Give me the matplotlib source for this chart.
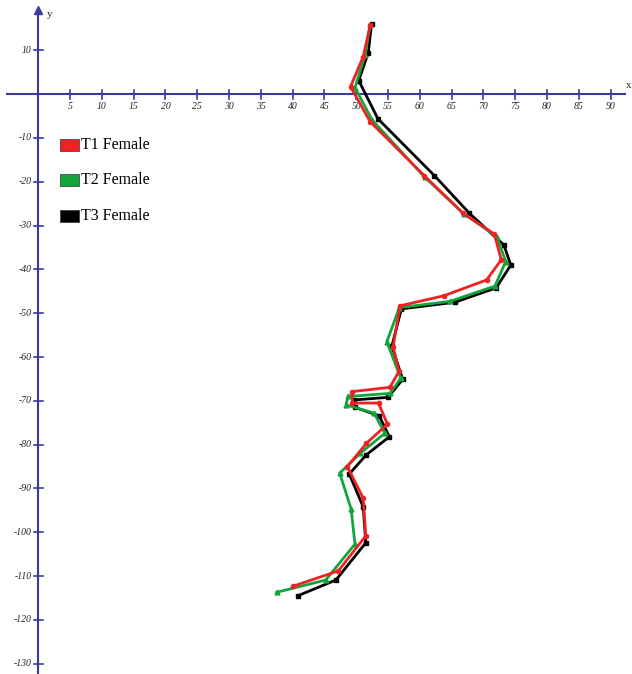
import numpy as np
import matplotlib.pyplot as plt

# T1 Female (red, circles)
t1_x = [52.2, 51.1, 49.1, 52.2, 60.7, 66.8, 71.7, 72.8, 70.5, 63.8, 56.9, 55.8,
        56.7, 55.3, 49.3, 49.4, 53.5, 54.9, 51.6, 48.6, 51.1, 51.5, 47.2, 40.1]
t1_y = [15.8, 8.6, 1.7, -6.3, -18.6, -27.2, -31.9, -37.8, -42.4, -46.0, -48.3, -57.6,
        -63.3, -66.9, -67.9, -70.5, -70.5, -75.3, -79.7, -85.0, -92.2, -100.8, -108.8, -112.3]

# T2 Female (green, triangles)
t2_x = [52.2, 51.4, 49.8, 52.5, 60.8, 67.0, 72.1, 73.5, 71.8, 64.7, 56.8, 54.8,
        57.0, 55.3, 48.7, 48.4, 52.8, 54.5, 50.6, 47.4, 49.2, 49.8, 45.2, 37.5]
t2_y = [15.9, 9.0, 1.5, -5.9, -19.0, -27.4, -32.5, -38.2, -43.8, -47.3, -48.7, -56.5,
        -64.8, -68.3, -69.0, -70.9, -72.8, -77.4, -82.0, -86.5, -94.7, -102.7, -110.9, -113.7]

# T3 Female (black, squares)
t3_x = [52.4, 51.9, 50.4, 53.4, 62.3, 67.8, 73.2, 74.3, 72.0, 65.5, 57.1, 55.6,
        57.3, 55.0, 49.6, 49.8, 53.6, 55.2, 51.6, 48.9, 51.1, 51.5, 46.8, 40.8]
t3_y = [16.0, 9.5, 3.1, -5.6, -18.6, -27.2, -34.4, -39.0, -44.2, -47.5, -49.0, -57.5,
        -65.1, -69.2, -69.8, -71.5, -73.4, -78.2, -82.3, -86.7, -94.2, -102.4, -110.9, -114.5]

x_ticks = list(range(5, 95, 5))
y_ticks = [10] + list(range(-10, -140, -10))

axis_col = '#3a3a9c'
plt.rcParams['font.family'] = ['Liberation Serif', 'DejaVu Serif']

fig = plt.figure(figsize=(6.32, 6.74), dpi=100)
ax = fig.add_axes([0, 0, 1, 1])
ax.set_xlim(-6.0, 93.35)
ax.set_ylim(-132.35, 21.5)

# axes through the origin
ax.plot([-4.9, 92.3], [0, 0], color=axis_col, lw=1.5, zorder=1)
ax.plot([0, 0], [-133, 19.0], color=axis_col, lw=1.5, zorder=1)
ax.plot([0], [19.3], marker='^', color=axis_col, ms=6, zorder=1)
for xt in x_ticks:
    ax.plot([xt, xt], [-1.0, 1.0], color=axis_col, lw=1.2, zorder=1)
    ax.text(xt, -1.8, str(xt), ha='center', va='top', fontsize=7,
            style='italic', color='#222222')
for yt in y_ticks:
    ax.plot([-0.7, 0.7], [yt, yt], color=axis_col, lw=1.2, zorder=1)
    ax.text(-1.0, yt, str(yt), ha='right', va='center', fontsize=7,
            style='italic', color='#222222')
ax.text(1.3, 18.2, 'y', fontsize=8, color='#222222', va='center')
ax.text(92.4, 2.0, 'x', fontsize=8, color='#222222', va='center')

ax.plot(t3_x, t3_y, color='black', lw=2, marker='s', ms=3.5, zorder=2)
ax.plot(t2_x, t2_y, color='#12a53c', lw=2, marker='^', ms=3.5, zorder=3)
ax.plot(t1_x, t1_y, color='#ee2222', lw=2, marker='o', ms=3, zorder=4)

# legend
labels = ['T1 Female', 'T2 Female', 'T3 Female']
colors = ['#ee2222', '#12a53c', 'black']
for i, (lab, c) in enumerate(zip(labels, colors)):
    fy = 1 - (145 + 35.5 * i) / 674
    fig.patches.append(plt.Rectangle((60 / 632, fy - 6 / 674), 19 / 632, 12 / 674,
                                     transform=fig.transFigure, facecolor=c,
                                     edgecolor='#333333', lw=0.5))
    fig.text(81 / 632, fy, lab, fontsize=11.5, va='center', ha='left')

ax.axis('off')
fig.savefig('out.png', dpi=100)
